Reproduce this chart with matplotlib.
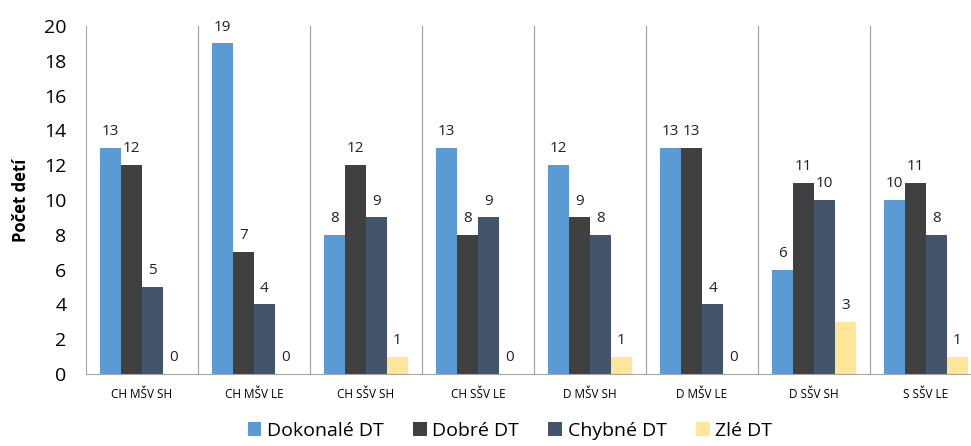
import numpy as np
import matplotlib
matplotlib.use('Agg')
from matplotlib import pyplot as plt

plt.rcParams['font.family'] = ['Open Sans', 'DejaVu Sans']

categories = ['CH MŠV SH', 'CH MŠV LE', 'CH SŠV SH', 'CH SŠV LE',
              'D MŠV SH', 'D MŠV LE', 'D SŠV SH', 'S SŠV LE']
series_names = ['Dokonalé DT', 'Dobré DT', 'Chybné DT', 'Zlé DT']
dokonale = [13, 19, 8, 13, 12, 13, 6, 10]
dobre = [12, 7, 12, 8, 9, 13, 11, 11]
chybne = [5, 4, 9, 9, 8, 4, 10, 8]
zle = [0, 0, 1, 0, 1, 0, 3, 1]
colors = ['#5B9BD5', '#404040', '#44546A', '#FFE699']

fig = plt.figure(figsize=(9.71, 4.46), dpi=100)
# plot area runs past the right edge, as in the original crop
ax = fig.add_axes([86 / 971, 72 / 446, 896 / 971, 348 / 446])

x = np.arange(len(categories))
w = 0.1875
for i, (vals, name, c) in enumerate(zip([dokonale, dobre, chybne, zle], series_names, colors)):
    pos = x + (i - 1.5) * w
    bars = ax.bar(pos, vals, w, color=c, label=name)
    for b, v in zip(bars, vals):
        ax.text(b.get_x() + b.get_width() / 2, v + 0.5, str(v),
                ha='center', va='bottom', fontsize=11, color='#222222')

# separators between groups
for k in range(1, len(categories)):
    ax.axvline(k - 0.5, color='#A6A6A6', lw=0.9, zorder=0)

ax.set_xlim(-0.5, len(categories) - 0.5)
ax.set_ylim(0, 20)
ax.set_yticks(range(0, 21, 2))
ax.set_xticks(x)
ax.set_xticklabels(categories, fontsize=8.5)
ax.tick_params(axis='both', length=0)
ax.tick_params(axis='y', labelsize=14, pad=14)
ax.tick_params(axis='x', pad=10)
for s in ['top', 'right']:
    ax.spines[s].set_visible(False)
for s in ['left', 'bottom']:
    ax.spines[s].set_color('#A6A6A6')
ax.set_ylabel('Počet detí', fontsize=12, fontweight='bold', labelpad=10)

fig.legend(loc='lower center', bbox_to_anchor=(510 / 971, -0.025), ncol=4,
           frameon=False, fontsize=14, handlelength=0.7, handleheight=0.7,
           handletextpad=0.3, columnspacing=1.5)

fig.savefig('out.png', dpi=100)
